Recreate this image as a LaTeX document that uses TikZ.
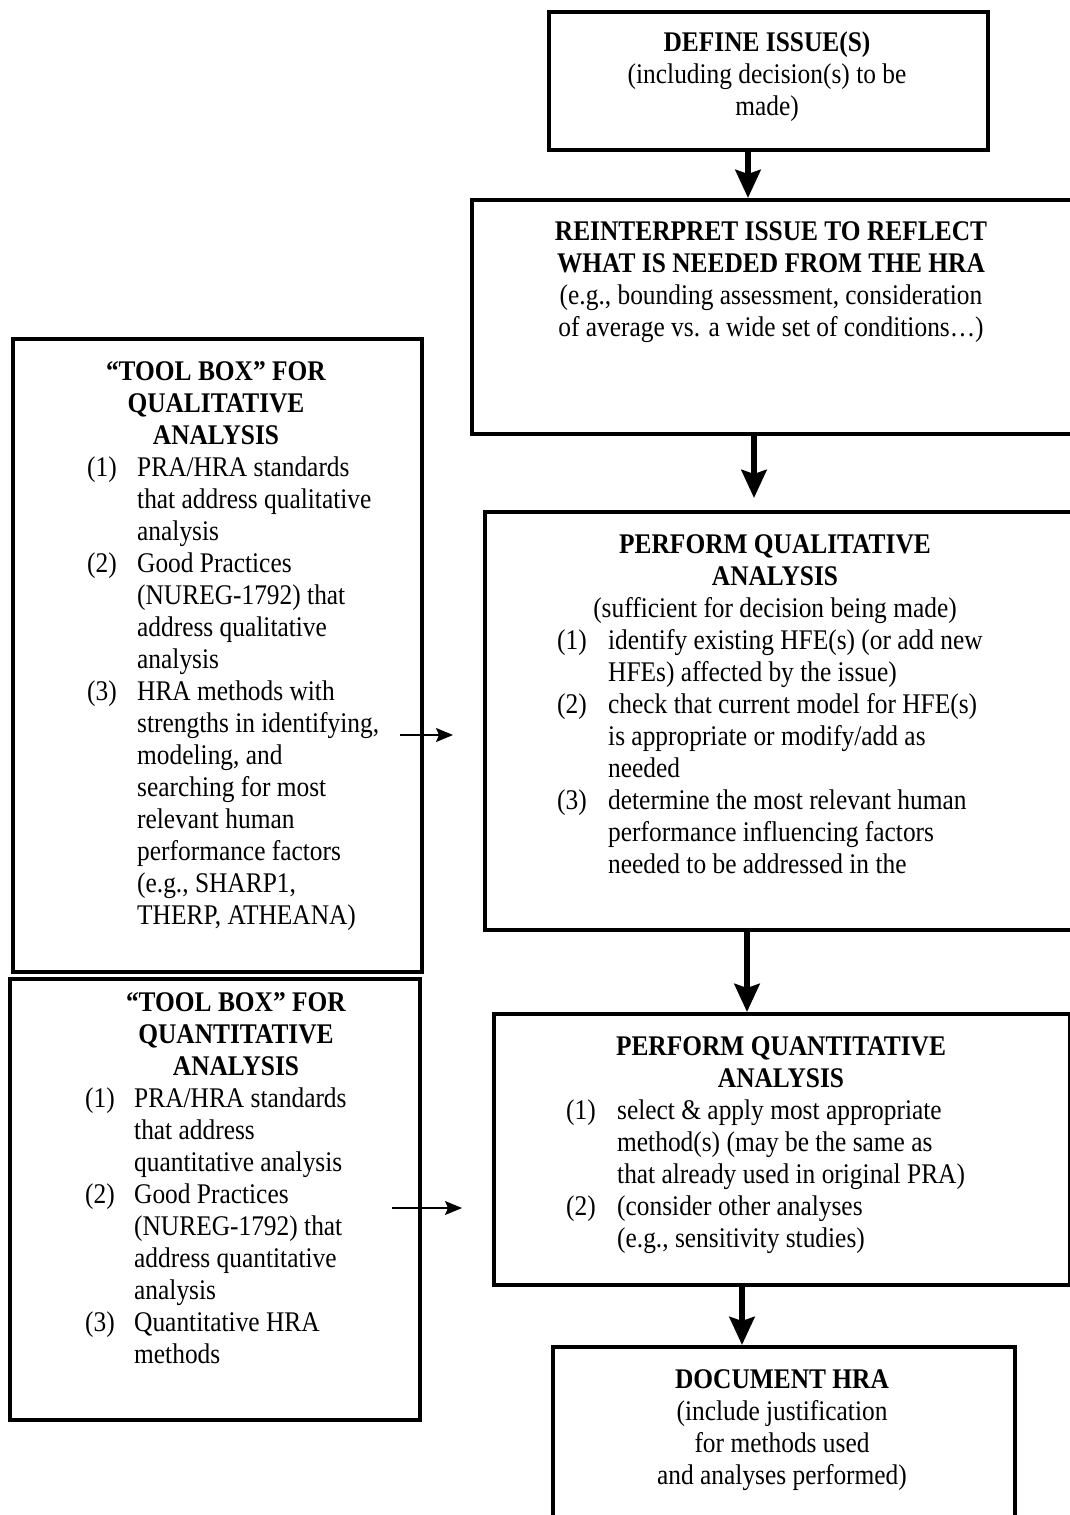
\documentclass[tikz,border=0pt]{standalone}
\usepackage{fontspec}
\setmainfont{Liberation Serif}
\usetikzlibrary{arrows.meta,calc}
\newcommand{\bodyfont}{\fontsize{25.4}{28.57}\selectfont}
\begin{document}
\begin{tikzpicture}[x=1pt,y=-1pt,
  box/.style={draw, line width=3.5pt, inner sep=0pt, anchor=north west},
  txt/.style={inner sep=0pt, anchor=north, align=center, font=\bodyfont, yscale=1.12},
  lst/.style={inner sep=0pt, anchor=north west, font=\bodyfont, yscale=1.12},
  bigarrow/.style={line width=6pt, -{Stealth[length=28pt,width=25pt,inset=4pt]}},
  thinarrow/.style={line width=1.2pt, -{Stealth[length=17pt,width=14pt,inset=3pt]}}]
\path[use as bounding box, clip] (0,0) rectangle (1070,1515);
\fill[white] (0,0) rectangle (1070,1515);

% boxes
\node[box, minimum width=439pt, minimum height=138pt] (b1) at (547,10) {};
\node[box, minimum width=608pt, minimum height=234pt] (b2) at (470,198) {};
\node[box, minimum width=600pt, minimum height=418pt] (b3) at (483,510) {};
\node[box, minimum width=576pt, minimum height=271pt] (b4) at (492,1012) {};
\node[box, minimum width=462pt, minimum height=195pt] (b5) at (551,1345) {};
\node[box, minimum width=409pt, minimum height=633pt] (l1) at (11,337) {};
\node[box, minimum width=410pt, minimum height=441pt] (l2) at (8,977) {};

% texts
\node[txt] (t1) at (767,28.6) {\strut\textbf{DEFINE ISSUE(S)}\\(including decision(s) to be\\made)};
\node[txt] (t2) at (771,217.6) {\strut\textbf{REINTERPRET ISSUE TO REFLECT}\\\textbf{WHAT IS NEEDED FROM THE HRA}\\(e.g., bounding assessment, consideration\\of average vs. a wide set of conditions…)};
\node[txt] (t3) at (775,530.6) {\strut\textbf{PERFORM QUALITATIVE}\\\textbf{ANALYSIS}\\(sufficient for decision being made)};
\node[lst] (t3l) at (557,626.6) {\begin{tabular}{@{}p{51pt}@{}l@{}}
(1) & identify existing HFE(s) (or add new\\
    & HFEs) affected by the issue)\\
(2) & check that current model for HFE(s)\\
    & is appropriate or modify/add as\\
    & needed\\
(3) & determine the most relevant human\\
    & performance influencing factors\\
    & needed to be addressed in the
\end{tabular}};
\node[txt] (t4) at (781,1032.6) {\strut\textbf{PERFORM QUANTITATIVE}\\\textbf{ANALYSIS}};
\node[lst] (t4l) at (566,1096.6) {\begin{tabular}{@{}p{51pt}@{}l@{}}
(1) & select \& apply most appropriate\\
    & method(s) (may be the same as\\
    & that already used in original PRA)\\
(2) & (consider other analyses\\
    & (e.g., sensitivity studies)
\end{tabular}};
\node[txt] (t5) at (782,1365.6) {\strut\textbf{DOCUMENT HRA}\\(include justification\\for methods used\\and analyses performed)};

\node[txt] (tl1) at (216,357.6) {\strut\textbf{“TOOL BOX” FOR}\\\textbf{QUALITATIVE}\\\textbf{ANALYSIS}};
\node[lst] (tl1l) at (87,453.6) {\begin{tabular}{@{}p{50pt}@{}l@{}}
(1) & PRA/HRA standards\\
    & that address qualitative\\
    & analysis\\
(2) & Good Practices\\
    & (NUREG-1792) that\\
    & address qualitative\\
    & analysis\\
(3) & HRA methods with\\
    & strengths in identifying,\\
    & modeling, and\\
    & searching for most\\
    & relevant human\\
    & performance factors\\
    & (e.g., SHARP1,\\
    & THERP, ATHEANA)
\end{tabular}};
\node[txt] (tl2) at (236,988.6) {\strut\textbf{“TOOL BOX” FOR}\\\textbf{QUANTITATIVE}\\\textbf{ANALYSIS}};
\node[lst] (tl2l) at (85,1084.6) {\begin{tabular}{@{}p{49pt}@{}l@{}}
(1) & PRA/HRA standards\\
    & that address\\
    & quantitative analysis\\
(2) & Good Practices\\
    & (NUREG-1792) that\\
    & address quantitative\\
    & analysis\\
(3) & Quantitative HRA\\
    & methods
\end{tabular}};

% connectors
\coordinate (ax1) at (748,0);
\coordinate (ax2) at (754,0);
\coordinate (ax3) at (747,0);
\coordinate (ax4) at (742,0);
\draw[bigarrow] (b1.south -| ax1) -- (b2.north -| ax1);
\draw[bigarrow] (b2.south -| ax2) -- ($(b3.north -| ax2)+(0,-12)$);
\draw[bigarrow] (b3.south -| ax3) -- (b4.north -| ax3);
\draw[bigarrow] (b4.south -| ax4) -- (b5.north -| ax4);

\coordinate (q1s) at (400,735);
\coordinate (q1e) at (453,735);
\coordinate (q2s) at (392,1208);
\coordinate (q2e) at (462,1208);
\draw[thinarrow] (q1s) -- (q1e);
\draw[thinarrow] (q2s) -- (q2e);
\end{tikzpicture}
\end{document}
